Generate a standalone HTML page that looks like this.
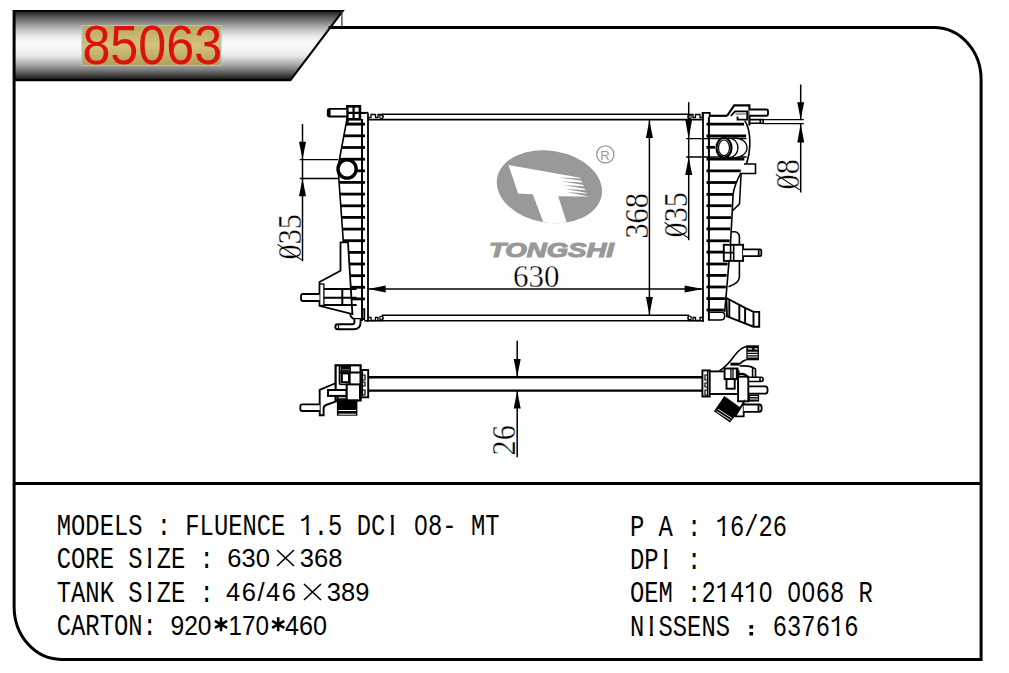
<!DOCTYPE html>
<html><head><meta charset="utf-8">
<style>
html,body{margin:0;padding:0;background:#fff;width:1009px;height:673px;overflow:hidden}
svg{position:absolute;left:0;top:0}
.spec text{font-family:"Liberation Mono",monospace;font-size:29.5px;fill:#000;white-space:pre}
.spec text.prop{font-family:"Liberation Sans",sans-serif;font-size:25.5px}
.spec text.prop2{font-family:"Liberation Sans",sans-serif;font-size:27px}
.dim{font-family:"Liberation Serif",serif;font-size:31px;fill:#000;stroke:#fff;stroke-width:0.35px}
</style></head><body>
<svg width="1009" height="673" viewBox="0 0 1009 673">
<defs>
<linearGradient id="bg" x1="0" y1="0" x2="0" y2="1">
<stop offset="0" stop-color="#111"/>
<stop offset="0.012" stop-color="#222"/>
<stop offset="0.043" stop-color="#3a3a3a"/>
<stop offset="0.108" stop-color="#666"/>
<stop offset="0.173" stop-color="#8c8c8c"/>
<stop offset="0.237" stop-color="#b0b0b0"/>
<stop offset="0.302" stop-color="#d0d0d0"/>
<stop offset="0.37" stop-color="#e8e8e8"/>
<stop offset="0.45" stop-color="#fafafa"/>
<stop offset="0.55" stop-color="#f8f8f8"/>
<stop offset="0.639" stop-color="#eaeaea"/>
<stop offset="0.714" stop-color="#c8c8c8"/>
<stop offset="0.789" stop-color="#a0a0a0"/>
<stop offset="0.864" stop-color="#707070"/>
<stop offset="0.939" stop-color="#3a3a3a"/>
<stop offset="0.984" stop-color="#1a1a1a"/>
<stop offset="1" stop-color="#000"/>
</linearGradient>
<linearGradient id="gold" x1="0" y1="0" x2="0" y2="1">
<stop offset="0" stop-color="#b8a860"/>
<stop offset="0.5" stop-color="#d4c27a"/>
<stop offset="1" stop-color="#b09e55"/>
</linearGradient>
</defs>
<polygon points="14.1,10.9 342.8,10.9 290.5,80.2 14.1,80.2" fill="url(#bg)"/>
<path d="M14.1,10.9 H342.8 L290.5,80.2 H14.1" fill="none" stroke="#000" stroke-width="2"/>
<line x1="341.9" y1="10.9" x2="341.9" y2="27.5" stroke="#444" stroke-width="1.3"/>
<path d="M328.6,27.5 H934 A47,52 0 0 1 981.1,79.5 V659.4 H61 A47,53 0 0 1 14.1,606.4 V9.9" fill="none" stroke="#000" stroke-width="3"/>
<line x1="14" y1="483.4" x2="981" y2="483.4" stroke="#000" stroke-width="3"/>
<rect x="82" y="25.5" width="139" height="40" fill="url(#gold)" stroke="#a8c0e0" stroke-width="1"/>
<text transform="translate(82.4,64.3) scale(1.005,1.118)" x="0" y="0" font-family="Liberation Sans" font-size="50" fill="#dd1010">85063</text>

<defs><clipPath id="ell"><ellipse cx="549.4" cy="186.7" rx="53" ry="36" transform="rotate(9 549.4 186.7)"/></clipPath></defs>
<g clip-path="url(#ell)">
<rect x="490" y="140" width="120" height="90" fill="#999"/>
<polygon points="508.5,165.1 580.2,177.8 588,196.5 558.2,196.2 567.5,225 544.3,225 532.8,194.2 518.1,193.5" fill="#fff"/>
<polygon points="559,177.4 590,179.1 590,182.1" fill="#999"/>
<polygon points="561,181.3 590,183.0 590,186.0" fill="#999"/>
<polygon points="563,185.1 590,186.8 590,189.8" fill="#999"/>
<polygon points="565,188.7 590,190.4 590,193.4" fill="#999"/>
<polygon points="566.5,192.1 590,193.8 590,196.8" fill="#999"/>
</g>
<circle cx="605.3" cy="154.4" r="8.6" fill="none" stroke="#999" stroke-width="1.3"/>
<text x="600.2" y="159.5" font-family="Liberation Sans" font-size="13" fill="#999">R</text>
<text x="489" y="256.6" font-family="Liberation Sans" font-weight="bold" font-style="italic" font-size="20.5" fill="#999" stroke="#999" stroke-width="1.1" textLength="125" lengthAdjust="spacingAndGlyphs">TONGSHI</text>

<path d="M382,114.3 H689 M368,119.6 H703 M382,315.2 H689 M368,320.7 H703" stroke="#000" fill="none" stroke-width="1.6"/>
<path d="M368,113.5 V322 M703,113.5 V322" stroke="#000" fill="none" stroke-width="1.8"/>
<path d="M368,117.5 h3 v-3 h4.5 v3 h2.5 v-3 h4.5 v3" stroke="#000" fill="none" stroke-width="1.3"/><circle cx="381.5" cy="116.8" r="1.8" stroke="#000" fill="none" stroke-width="1.2"/>
<path d="M368,317.5 h3 v3 h4.5 v-3 h2.5 v3 h4.5 v-3" stroke="#000" fill="none" stroke-width="1.3"/><circle cx="381.5" cy="318" r="1.8" stroke="#000" fill="none" stroke-width="1.2"/>
<path d="M703,117.5 h-3 v-3 h-4.5 v3 h-2.5 v-3 h-4.5 v3" stroke="#000" fill="none" stroke-width="1.3"/><circle cx="689.5" cy="116.8" r="1.8" stroke="#000" fill="none" stroke-width="1.2"/>
<path d="M703,317.5 h-3 v3 h-4.5 v-3 h-2.5 v3 h-4.5 v-3" stroke="#000" fill="none" stroke-width="1.3"/><circle cx="689.5" cy="318" r="1.8" stroke="#000" fill="none" stroke-width="1.2"/>
<path d="M360.6,112.8 H368.4" stroke="#000" fill="none" stroke-width="1.8"/>
<path d="M362,119 V321" stroke="#000" fill="none" stroke-width="2"/>
<polyline points="347,119 338,167 343.4,242.7" stroke="#000" fill="none" stroke-width="1.6"/>
<line x1="346.0" y1="124.2" x2="365" y2="124.2" stroke="#000" stroke-width="2.8"/>
<line x1="343.8" y1="135.8" x2="365" y2="135.8" stroke="#000" stroke-width="2.8"/>
<line x1="341.7" y1="147.5" x2="365" y2="147.5" stroke="#000" stroke-width="2.8"/>
<line x1="339.5" y1="159.2" x2="365" y2="159.2" stroke="#000" stroke-width="2.8"/>
<line x1="356.0" y1="170.8" x2="365" y2="170.8" stroke="#000" stroke-width="2.8"/>
<line x1="339.1" y1="182.4" x2="365" y2="182.4" stroke="#000" stroke-width="2.8"/>
<line x1="339.9" y1="194.1" x2="365" y2="194.1" stroke="#000" stroke-width="2.8"/>
<line x1="340.8" y1="205.8" x2="365" y2="205.8" stroke="#000" stroke-width="2.8"/>
<line x1="341.6" y1="217.4" x2="365" y2="217.4" stroke="#000" stroke-width="2.8"/>
<line x1="342.4" y1="229.1" x2="365" y2="229.1" stroke="#000" stroke-width="2.8"/>
<line x1="343.3" y1="240.7" x2="365" y2="240.7" stroke="#000" stroke-width="2.8"/>
<line x1="348.6" y1="252.4" x2="365" y2="252.4" stroke="#000" stroke-width="2.8"/>
<line x1="349.3" y1="264.0" x2="365" y2="264.0" stroke="#000" stroke-width="2.8"/>
<line x1="350.1" y1="275.7" x2="365" y2="275.7" stroke="#000" stroke-width="2.8"/>
<line x1="350.8" y1="287.3" x2="365" y2="287.3" stroke="#000" stroke-width="2.8"/>
<line x1="351.5" y1="298.9" x2="365" y2="298.9" stroke="#000" stroke-width="2.8"/>
<path d="M348,120 V123.5 H363.5 M360.5,113.3 H366" stroke="#000" fill="none" stroke-width="1.5"/>
<rect x="347.3" y="106.3" width="12.6" height="13" fill="#fff" stroke="#000" stroke-width="2.6"/>
<path d="M353.6,106 V119.5 M347.3,112.8 H359.9" stroke="#000" fill="none" stroke-width="2.2"/>
<path d="M346.3,108.9 H329.5 Q327.8,108.9 327.8,110.5 V114.8 Q327.8,116.5 329.5,116.5 H346.3 M329.6,109 V116.4" fill="#fff" stroke="#000" stroke-width="1.9"/>
<circle cx="347.1" cy="169" r="9.1" fill="#fff" stroke="#000" stroke-width="3.4"/>
<polygon points="340.5,242.3 348,242.3 352.4,314 319.5,305.8 319.5,282 340.5,270.7" fill="#fff" stroke="#000" stroke-width="1.8"/>
<rect x="319.7" y="284" width="4.2" height="21.5" fill="#fff" stroke="#000" stroke-width="1.3"/>
<path d="M324,289.1 H356.6 M324,297.8 H356.6 M324,305 H356.6 M342.3,289 V305" stroke="#000" fill="none" stroke-width="2"/>
<path d="M319.5,294 H303 Q301,294 301,296 V299 Q301,301 303,301 H319.5" fill="#fff" stroke="#000" stroke-width="1.8"/>
<path d="M350,314 Q351.5,319 355,319 H364.3 V309.2 H362" stroke="#000" fill="none" stroke-width="1.8"/>
<path d="M364.3,320.8 H368" stroke="#000" fill="none" stroke-width="1.6"/>
<path d="M354.4,319.3 V322.3 Q354.4,324.3 352.4,324.3 H337.6 Q335.3,324.3 335.3,326.8 Q335.3,329.3 337.6,329.3 H353.5 Q360.6,329.3 360.6,322 V319.3" fill="#fff" stroke="#000" stroke-width="1.9"/>
<path d="M338.5,324.5 V329" stroke="#000" fill="none" stroke-width="1.2"/>
<path d="M299.7,159.6 H338 M299.7,178.5 H338" stroke="#000" fill="none" stroke-width="1.3"/>
<path d="M302.5,124 V261.3" stroke="#000" fill="none" stroke-width="1.5"/>
<polygon points="302.5,159.6 299.0,141.8 306.0,141.8" fill="#000"/>
<polygon points="302.5,178.5 299.0,196.3 306.0,196.3" fill="#000"/>
<path d="M368.5,289 H703" stroke="#000" fill="none" stroke-width="1.6"/>
<polygon points="368.5,289 385.7,285.5 385.7,292.5" fill="#000"/>
<polygon points="703,289 684.6,285.5 684.6,292.5" fill="#000"/>
<path d="M649.4,120 V315" stroke="#000" fill="none" stroke-width="1.5"/>
<polygon points="649.4,120 645.9,137.9 652.9,137.9" fill="#000"/>
<polygon points="649.4,315 645.9,297 652.9,297" fill="#000"/>
<path d="M688.7,102.2 V240.2" stroke="#000" fill="none" stroke-width="1.5"/>
<path d="M686.2,138.7 H746.6 M686.2,157 H746.6" stroke="#000" fill="none" stroke-width="1.3"/>
<polygon points="688.7,138.7 685.2,119.3 692.2,119.3" fill="#000"/>
<polygon points="688.7,157 685.2,175 692.2,175" fill="#000"/>
<path d="M800.7,84.5 V119.6 M800.7,123.7 V192.4" stroke="#000" fill="none" stroke-width="1.5"/>
<path d="M762,119.6 H803.7 M762,123.7 H803.7" stroke="#000" fill="none" stroke-width="1.3"/>
<polygon points="800.7,119.6 797.2,102.3 804.2,102.3" fill="#000"/>
<polygon points="800.7,123.7 797.2,142.4 804.2,142.4" fill="#000"/>
<path d="M708.9,117 V320" stroke="#000" fill="none" stroke-width="2"/>
<path d="M702.6,117 V112.9 H709.7 V117" stroke="#000" fill="none" stroke-width="1.8"/>
<path d="M709.7,115.8 H727.1" stroke="#000" fill="none" stroke-width="2.2"/>
<path d="M744.8,120.6 C752,132 752,160 741.2,172.4 C737,180 734,186 733,195 L732.3,210.4 L730.5,243.7 L726,297.4 L724.6,312" stroke="#000" fill="none" stroke-width="1.6"/>
<path d="M741.2,172.4 L739.5,203.9 L732.3,211" stroke="#000" fill="none" stroke-width="1.5"/>
<line x1="706.5" y1="124.1" x2="744.0" y2="124.1" stroke="#000" stroke-width="2.8"/>
<line x1="706.5" y1="136" x2="746.1" y2="136" stroke="#000" stroke-width="2.8"/>
<line x1="706.5" y1="147.3" x2="715.0" y2="147.3" stroke="#000" stroke-width="2.8"/>
<line x1="706.5" y1="159.2" x2="744.3" y2="159.2" stroke="#000" stroke-width="2.8"/>
<line x1="706.5" y1="170.8" x2="740.7" y2="170.8" stroke="#000" stroke-width="2.8"/>
<line x1="706.5" y1="182.5" x2="736.1" y2="182.5" stroke="#000" stroke-width="2.8"/>
<line x1="706.5" y1="194.4" x2="732.6" y2="194.4" stroke="#000" stroke-width="2.8"/>
<line x1="706.5" y1="205.7" x2="731.7" y2="205.7" stroke="#000" stroke-width="2.8"/>
<line x1="706.5" y1="217.6" x2="730.9" y2="217.6" stroke="#000" stroke-width="2.8"/>
<line x1="706.5" y1="228.9" x2="730.3" y2="228.9" stroke="#000" stroke-width="2.8"/>
<line x1="706.5" y1="240.8" x2="729.7" y2="240.8" stroke="#000" stroke-width="2.8"/>
<line x1="706.5" y1="252.1" x2="728.7" y2="252.1" stroke="#000" stroke-width="2.8"/>
<line x1="706.5" y1="264" x2="727.6" y2="264" stroke="#000" stroke-width="2.8"/>
<line x1="706.5" y1="275.4" x2="726.6" y2="275.4" stroke="#000" stroke-width="2.8"/>
<line x1="706.5" y1="287" x2="725.8" y2="287" stroke="#000" stroke-width="2.8"/>
<line x1="706.5" y1="298.6" x2="724.9" y2="298.6" stroke="#000" stroke-width="2.8"/>
<line x1="706.5" y1="310" x2="723.8" y2="310" stroke="#000" stroke-width="2.8"/>
<ellipse cx="735" cy="147.8" rx="12" ry="9.8" fill="#fff" stroke="#000" stroke-width="1.3"/>
<ellipse cx="729" cy="147.8" rx="9" ry="9.8" fill="#fff" stroke="#000" stroke-width="1.3"/>
<ellipse cx="724" cy="147.8" rx="7.5" ry="9.8" fill="#fff" stroke="#000" stroke-width="2.2"/>
<ellipse cx="724" cy="147.8" rx="5.5" ry="7.8" fill="none" stroke="#000" stroke-width="1.2"/>
<path d="M727.1,115.8 L734.2,105.4 H749.4 V125.5" fill="none" stroke="#000" stroke-width="2.1"/>
<path d="M730.9,115.8 L735,111.4 H747.2 V119.6 H737.5 V116.6" fill="none" stroke="#000" stroke-width="1.8"/>
<path d="M735.5,114 H747" stroke="#555" stroke-width="1.1"/>
<path d="M749.4,109.5 H766.5 Q768,109.5 768,111 V114.3 Q768,115.8 766.5,115.8 H749.4" fill="#fff" stroke="#000" stroke-width="1.9"/>
<path d="M749.4,119.6 H763.2 V123.3 H749.4 M760.3,119.6 V123.3" fill="none" stroke="#000" stroke-width="1.6"/>
<path d="M744,164 H755.5 V173.5 H740" fill="#fff" stroke="#000" stroke-width="1.6"/>
<path d="M731.6,231.8 H735 Q739.4,232.5 739.4,237 V244.8 M739.4,260.9 V277 Q739.4,283 728.5,286.8" stroke="#000" fill="none" stroke-width="1.6"/>
<rect x="723.8" y="244.8" width="19.3" height="16.1" fill="#fff" stroke="#000" stroke-width="1.9"/>
<path d="M733.7,244.8 V260.9 M730.6,244.8 V260.9 M723.8,252.6 H733.7" stroke="#000" fill="none" stroke-width="1.6"/>
<path d="M743.1,249.4 H760 Q761.3,249.4 761.3,250.8 V254.8 Q761.3,256.2 760,256.2 H743.1 M758.7,249.4 V256.2" fill="#fff" stroke="#000" stroke-width="1.8"/>
<polygon points="726.4,298 745.1,307.8 753.5,311.9 759.2,311.9 759.2,326.7 753.5,326.7 727,316.4" fill="#fff" stroke="#000" stroke-width="1.9"/>
<path d="M729.3,299.5 V317.3 M739.3,304.2 V320.8 M745.1,307.8 V322.8 M753.5,311.9 V326.7" stroke="#000" fill="none" stroke-width="1.9"/>
<path d="M708,312.3 H722 Q724.6,312.3 724.6,315 V317 Q724.6,320 720,320 H708" stroke="#000" fill="none" stroke-width="1.6"/>
<path d="M368,377.2 H703 M368,390.6 H703" stroke="#000" fill="none" stroke-width="2.4"/>
<path d="M517.2,340.7 V377 M517.2,390.7 V457.3" stroke="#000" fill="none" stroke-width="1.5"/>
<polygon points="517.2,377 513.7,359 520.7,359" fill="#000"/>
<polygon points="517.2,390.7 513.7,408.5 520.7,408.5" fill="#000"/>
<rect x="360.6" y="370" width="7.6" height="27.3" fill="#fff" stroke="#000" stroke-width="1.9"/>
<path d="M362.5,371 V396 M362.5,375 h2.5 v5 h-2.5 M362.5,382 h2.5 v4 h-2.5 M362.5,390 h2.5 v5 h-2.5" stroke="#000" fill="none" stroke-width="1.2"/>
<path d="M336.9,401.1 L326,405 Q323.6,406 323.6,409 V415.2 H319.7 V390 L336,383" fill="#fff" stroke="#000" stroke-width="1.9"/>
<path d="M319.7,404.3 H302.5 Q300.3,404.3 300.3,406.3 V409 Q300.3,411 302.5,411 H319.7" fill="#fff" stroke="#000" stroke-width="1.8"/>
<rect x="335.6" y="365.3" width="25" height="35" fill="#fff" stroke="#000" stroke-width="2.2"/>
<rect x="340.9" y="365.3" width="10" height="7.2" fill="#000"/>
<path d="M342,369.4 H350 M342,371.2 H350" stroke="#777" stroke-width="0.8"/>
<rect x="351.9" y="366.9" width="6.5" height="3.7" fill="#fff"/>
<path d="M339.6,366 V384.4 M339.6,372.5 H360.6 M349.7,372.5 V384.4" stroke="#000" fill="none" stroke-width="1.9"/>
<rect x="341.9" y="373.4" width="7.1" height="8.8" fill="#fff" stroke="#000" stroke-width="2"/>
<path d="M339.6,384.4 H347" stroke="#000" fill="none" stroke-width="1.5"/>
<rect x="336.9" y="397" width="20.5" height="18.7" fill="#000"/>
<path d="M338.5,410.5 H356 M338.5,414.2 H356 M338.5,397.8 H346" stroke="#fff" stroke-width="1"/>
<rect x="328" y="390" width="18.7" height="5.9" fill="#fff" stroke="#000" stroke-width="2"/>
<rect x="346.7" y="384.4" width="13.3" height="15.9" fill="#fff" stroke="#000" stroke-width="2"/>
<rect x="702.4" y="370.4" width="7.3" height="26.1" fill="#fff" stroke="#000" stroke-width="1.9"/>
<path d="M707.5,371 V396 M707.5,375 h-2.5 v5 h2.5 M707.5,383 h-2.5 v4 h2.5 M707.5,390 h-2.5 v5 h2.5" stroke="#000" fill="none" stroke-width="1.2"/>
<rect x="709.7" y="371.4" width="28.9" height="22.6" fill="#fff" stroke="#000" stroke-width="1.9"/>
<path d="M719.3,370.9 C726,367 730,362 735,355 C739,350 743,347 747.3,346.3 M739.6,364.1 C741.5,362 743.5,360.5 746.3,359.8" stroke="#000" fill="none" stroke-width="1.6"/>
<rect x="746.3" y="345.3" width="12.6" height="15" fill="#000"/>
<path d="M748,348.9 H752.2 M754.5,348.9 H757.5 M747.5,352.3 H757.7 M747.5,354.6 H757.7 M747.5,357 H757.7" stroke="#fff" stroke-width="1.1"/>
<rect x="730.4" y="362.7" width="9.2" height="2.9" fill="#000"/>
<path d="M739.6,366 C746,365.5 752,366 755.5,369 V377.2 M752.6,368 V377.2" stroke="#000" fill="none" stroke-width="1.6"/>
<rect x="724.6" y="368.5" width="13" height="10.6" fill="#fff" stroke="#000" stroke-width="1.9"/>
<path d="M730.9,368.5 V379.1 M733,368.5 V379.1 M736.5,368.5 V379.1" stroke="#000" fill="none" stroke-width="1.3"/>
<rect x="726.5" y="379.1" width="8.2" height="9.6" fill="#fff" stroke="#000" stroke-width="1.9"/>
<path d="M748.3,377.2 H761 Q763.2,377.2 763.2,379.3 Q763.2,381.5 761,381.5 H748.3 M760,377.2 V381.5" fill="#fff" stroke="#000" stroke-width="1.6"/>
<path d="M748.3,386.3 H765.5 Q767.6,386.3 767.6,390 Q767.6,393.6 765.5,393.6 H748.3" fill="#fff" stroke="#000" stroke-width="1.8"/>
<rect x="748.8" y="394.5" width="10.3" height="7.1" fill="#000"/>
<path d="M750,396.6 H758 M750,399 H758" stroke="#fff" stroke-width="1"/>
<rect x="738.1" y="376.7" width="10.2" height="24.6" fill="#fff" stroke="#000" stroke-width="1.9"/>
<path d="M739,374 Q746,373 748.3,378" stroke="#000" fill="none" stroke-width="2.2"/>
<polygon points="743.7,402.2 743.7,416.4 735.3,416.4" fill="#fff" stroke="#000" stroke-width="1.8"/>
<path d="M743.7,404.5 H759.5 Q761.7,404.5 761.7,408.2 Q761.7,411.9 759.5,411.9 H743.7 M758.5,404.5 V411.9" fill="#fff" stroke="#000" stroke-width="1.8"/>
<polygon points="724.3,396.1 741.1,408 730.1,422.5 714,411.3" fill="#000"/>
<path d="M716.5,411.3 L730.5,420.3 M718,409.2 L732,418.3" stroke="#fff" stroke-width="0.9"/>
<g transform="translate(300.6,259.5) rotate(-90) scale(0.92,1)"><text x="0" y="0" class="dim" style="font-size:33px;letter-spacing:0px">035</text><line x1="-0.5" y1="1" x2="16.5" y2="-23" stroke="#000" stroke-width="1.1"/></g>
<text class="dim" x="513" y="286.5">630</text>
<g transform="translate(648.4,238.6) rotate(-90) scale(0.92,1)"><text x="0" y="0" class="dim" style="font-size:33px;letter-spacing:0px">368</text></g>
<g transform="translate(687.4,237.5) rotate(-90) scale(0.92,1)"><text x="0" y="0" class="dim" style="font-size:33px;letter-spacing:0px">035</text><line x1="-0.5" y1="1" x2="16.5" y2="-23" stroke="#000" stroke-width="1.1"/></g>
<g transform="translate(798.8,189.5) rotate(-90) scale(0.92,1)"><text x="0" y="0" class="dim" style="font-size:33px;letter-spacing:0px">08</text><line x1="-0.5" y1="1" x2="16.5" y2="-23" stroke="#000" stroke-width="1.1"/></g>
<g transform="translate(515.3,455.5) rotate(-90) scale(0.92,1)"><text x="0" y="0" class="dim" style="font-size:33px;letter-spacing:0px">26</text></g>
<g class="spec">
<text x="56.8" y="534.8" textLength="442.68" lengthAdjust="spacingAndGlyphs">MODELS : FLUENCE 1.5 DCI 08- MT</text>
<text x="56.8" y="567.5" textLength="171.36" lengthAdjust="spacingAndGlyphs">CORE SIZE : </text>
<text class="prop" x="227.3" y="567">630</text>
<path d="M277,550 L294,566 M294,550 L277,566" stroke="#000" stroke-width="1.6"/>
<text class="prop" x="299.8" y="567">368</text>
<text x="56.8" y="601.8" textLength="171.36" lengthAdjust="spacingAndGlyphs">TANK SIZE : </text>
<text class="prop" x="226" y="601.3" textLength="70" lengthAdjust="spacing">46/46</text>
<path d="M304,584 L321,600 M321,584 L304,600" stroke="#000" stroke-width="1.6"/>
<text class="prop" x="326.8" y="601.3">389</text>
<text x="56.8" y="635.1" textLength="114.24" lengthAdjust="spacingAndGlyphs">CARTON: </text>
<text class="prop2" x="170.5" y="635.4" textLength="41" lengthAdjust="spacingAndGlyphs">920</text>
<text class="prop2" x="228.6" y="635.4" textLength="40.5" lengthAdjust="spacingAndGlyphs">170</text>
<text class="prop2" x="285" y="635.4" textLength="42" lengthAdjust="spacingAndGlyphs">460</text>
<path d="M221.0,617.3 L221.0,631.3 M214.9,620.8 L227.1,627.8 M227.1,620.8 L214.9,627.8 " stroke="#000" stroke-width="2.6" fill="none"/>
<path d="M278.2,617.3 L278.2,631.3 M272.1,620.8 L284.3,627.8 M284.3,620.8 L272.1,627.8 " stroke="#000" stroke-width="2.6" fill="none"/>
<text x="630.0" y="535.5" textLength="157.08" lengthAdjust="spacingAndGlyphs">P A : 16/26</text>
<text x="630.0" y="568.5" textLength="71.40" lengthAdjust="spacingAndGlyphs">DPI :</text>
<text x="630.0" y="601.7" textLength="242.76" lengthAdjust="spacingAndGlyphs">OEM :21410 0068 R</text>
<text x="630.0" y="635.6" textLength="114.24" lengthAdjust="spacingAndGlyphs">NISSENS </text>
<rect x="749.4" y="625.1" width="3.7" height="3.5" fill="#000"/><rect x="749.4" y="632" width="3.7" height="3.5" fill="#000"/>
<text x="772.8" y="635.6" textLength="85.68" lengthAdjust="spacingAndGlyphs">637616</text>
<rect x="418.7" y="522.5" width="4.4" height="4.6" fill="#fff"/>
<rect x="763.5" y="589.4" width="4.4" height="4.6" fill="#fff"/>
<rect x="792.0" y="589.4" width="4.4" height="4.6" fill="#fff"/>
<rect x="806.3" y="589.4" width="4.4" height="4.6" fill="#fff"/>
<rect x="300.6" y="532.5" width="5.6" height="3.2" fill="#fff"/><rect x="309.0" y="532.5" width="5.6" height="3.2" fill="#fff"/>
<rect x="716.7" y="599.4" width="5.6" height="3.2" fill="#fff"/><rect x="725.1" y="599.4" width="5.6" height="3.2" fill="#fff"/>
<rect x="745.2" y="599.4" width="5.6" height="3.2" fill="#fff"/><rect x="753.6" y="599.4" width="5.6" height="3.2" fill="#fff"/>
<rect x="716.7" y="533.2" width="5.6" height="3.2" fill="#fff"/><rect x="725.1" y="533.2" width="5.6" height="3.2" fill="#fff"/>
<rect x="830.9" y="633.3" width="5.6" height="3.2" fill="#fff"/><rect x="839.3" y="633.3" width="5.6" height="3.2" fill="#fff"/>
<rect x="386.4" y="514.6" width="4.4" height="3.7" fill="#fff"/><rect x="393.8" y="514.6" width="4.6" height="3.7" fill="#fff"/>
<rect x="386.4" y="531.7" width="4.4" height="3.7" fill="#fff"/><rect x="393.8" y="531.7" width="4.6" height="3.7" fill="#fff"/>
<rect x="143.7" y="547.3" width="4.4" height="3.7" fill="#fff"/><rect x="151.1" y="547.3" width="4.6" height="3.7" fill="#fff"/>
<rect x="143.7" y="564.4" width="4.4" height="3.7" fill="#fff"/><rect x="151.1" y="564.4" width="4.6" height="3.7" fill="#fff"/>
<rect x="143.7" y="581.6" width="4.4" height="3.7" fill="#fff"/><rect x="151.1" y="581.6" width="4.6" height="3.7" fill="#fff"/>
<rect x="143.7" y="598.7" width="4.4" height="3.7" fill="#fff"/><rect x="151.1" y="598.7" width="4.6" height="3.7" fill="#fff"/>
<rect x="659.8" y="548.3" width="4.4" height="3.7" fill="#fff"/><rect x="667.2" y="548.3" width="4.6" height="3.7" fill="#fff"/>
<rect x="659.8" y="565.4" width="4.4" height="3.7" fill="#fff"/><rect x="667.2" y="565.4" width="4.6" height="3.7" fill="#fff"/>
<rect x="645.5" y="615.4" width="4.4" height="3.7" fill="#fff"/><rect x="652.9" y="615.4" width="4.6" height="3.7" fill="#fff"/>
<rect x="645.5" y="632.5" width="4.4" height="3.7" fill="#fff"/><rect x="652.9" y="632.5" width="4.6" height="3.7" fill="#fff"/>
</g>
</svg>
</body></html>
